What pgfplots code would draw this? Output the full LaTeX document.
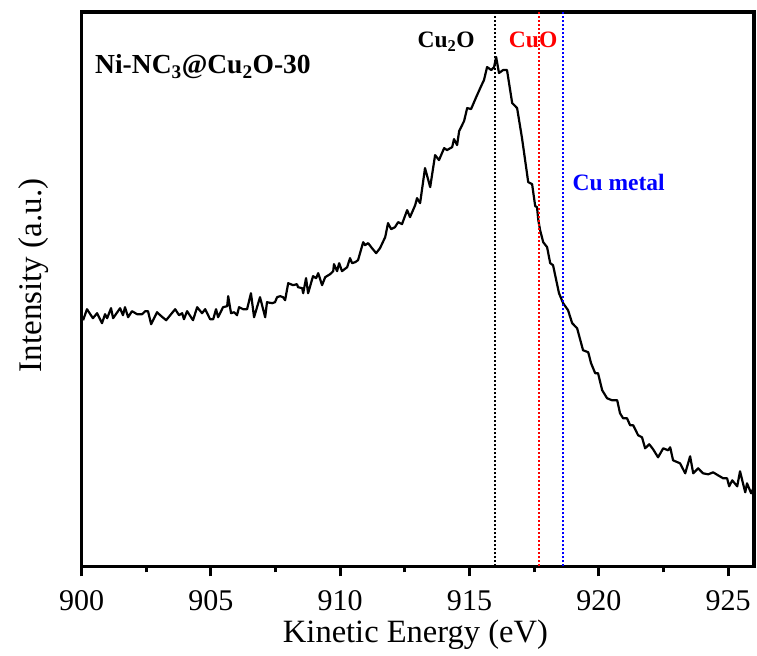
\documentclass[border=0pt]{standalone}
\usepackage{fontspec}
\setmainfont{Liberation Serif}
\usepackage{pgfplots}
\usepackage{pgfplotstable}
\pgfplotsset{compat=1.18}
\pgfplotstableread{
x y
900.06 246
900.21 257
900.44 248
900.60 253
900.79 243
900.91 252
900.99 248
901.14 258
901.22 248
901.49 258
901.60 251
901.68 259
901.80 249
901.95 255
902.15 252
902.34 252
902.46 255
902.57 255
902.69 242
902.92 254
903.04 251
903.27 246
903.62 257
903.77 251
903.89 253
903.96 247
904.08 255
904.31 246
904.47 259
904.66 253
904.78 257
904.97 247
905.09 247
905.20 257
905.28 249
905.47 259
905.63 260
905.67 270
905.78 253
905.90 254
906.01 251
906.09 259
906.25 257
906.40 257
906.55 273
906.67 249
906.90 269
907.10 249
907.17 264
907.37 263
907.48 264
907.56 269
907.68 270
907.79 269
907.87 266
907.99 283
908.18 281
908.33 282
908.37 279
908.53 278
908.57 273
908.68 288
908.76 273
908.95 290
909.07 288
909.15 293
909.30 281
909.42 289
909.61 292
909.73 295
909.76 302
909.88 295
909.96 303
910.07 295
910.27 299
910.38 308
910.46 303
910.58 304
910.69 306
910.89 324
910.96 321
911.08 323
911.23 318
911.39 313
911.54 318
911.74 329
911.85 343
911.97 337
912.12 339
912.24 344
912.39 342
912.59 356
912.70 349
912.90 361
912.97 368
913.09 363
913.28 398
913.48 379
913.67 411
913.82 406
914.02 418
914.13 416
914.33 419
914.40 427
914.52 421
914.60 435
914.79 445
914.91 458
915.06 457
915.26 469
915.45 480
915.56 486
915.68 499
915.84 496
915.95 499
916.03 509
916.14 493
916.30 496
916.45 496
916.65 463
916.84 458
917.03 428
917.27 384
917.42 382
917.54 360
917.61 359
917.66 346
917.73 336
917.85 324
918.00 319
918.12 303
918.23 301
918.46 273
918.62 263
918.81 256
918.97 243
919.16 238
919.39 216
919.59 214
919.70 203
919.86 193
919.97 193
920.13 176
920.32 168
920.51 166
920.71 166
920.82 153
920.94 148
921.09 148
921.21 141
921.33 141
921.52 131
921.67 129
921.79 118
921.95 122
922.10 117
922.29 109
922.49 118
922.68 116
922.76 119
922.87 106
923.14 103
923.34 93
923.53 110
923.65 93
923.84 98
924.03 93
924.23 92
924.42 94
924.61 91
924.81 88
924.96 88
925.04 80
925.16 86
925.35 80
925.46 95
925.66 74
925.73 83
925.89 73
925.97 78
}\spectrum
\begin{document}
\begin{tikzpicture}
\begin{axis}[
  scale only axis, width=672pt, height=554pt,
  xmin=900, xmax=926, ymin=0, ymax=554,
  xtick={900,905,...,925}, minor x tick num=1,
  ytick=\empty,
  axis line style={line width=3.2pt},
  tick style={line width=3pt, black},
  xtick pos=bottom, tick align=outside,
  major tick length=10pt, minor tick length=6pt,
  /pgf/number format/assume math mode=true,
  /pgf/number format/set thousands separator={},
  xticklabel style={font=\fontsize{30}{30}\selectfont, anchor=center, inner sep=0pt, yshift=-24pt},
  xlabel={Kinetic Energy (eV)}, ylabel={Intensity (a.u.)},
  xlabel style={font=\fontsize{32.5}{32.5}\selectfont, at={(axis description cs:0.4965,-0.124)}, anchor=center, inner sep=0pt},
  ylabel style={font=\fontsize{33}{33}\selectfont, at={(axis description cs:-0.072,0.525)}, anchor=center, inner sep=0pt, rotate=0},
  clip=false,
]
\addplot[black, line width=2.2pt, line join=round] table {\spectrum};
\addplot[black, dash pattern=on 2pt off 2pt, line width=1.8pt] coordinates {(916.0,0) (916.0,554)};
\addplot[red, dash pattern=on 2pt off 2pt, line width=1.8pt] coordinates {(917.7,0) (917.7,554)};
\addplot[blue, dash pattern=on 2pt off 2pt, line width=1.8pt] coordinates {(918.6,0) (918.6,554)};
\node[font=\bfseries\fontsize{27.5}{27.5}\selectfont, anchor=west, inner sep=0pt] at (axis cs:900.52,499) {Ni-NC\textsubscript{3}@Cu\textsubscript{2}O-30};
\node[font=\bfseries\fontsize{23.5}{23.5}\selectfont, anchor=center] at (axis cs:914.1,524) {Cu\textsubscript{2}O};
\node[font=\bfseries\fontsize{23.5}{23.5}\selectfont, anchor=center, text=red] at (axis cs:917.46,526) {CuO};
\node[font=\bfseries\fontsize{23.5}{23.5}\selectfont, anchor=west, inner sep=0pt, text=blue] at (axis cs:918.98,384) {Cu metal};
\end{axis}
\pgfresetboundingbox
\path ([xshift=-81.5pt,yshift=-89pt]current axis.south west) rectangle ([xshift=3pt,yshift=12pt]current axis.north east);
\end{tikzpicture}
\end{document}
